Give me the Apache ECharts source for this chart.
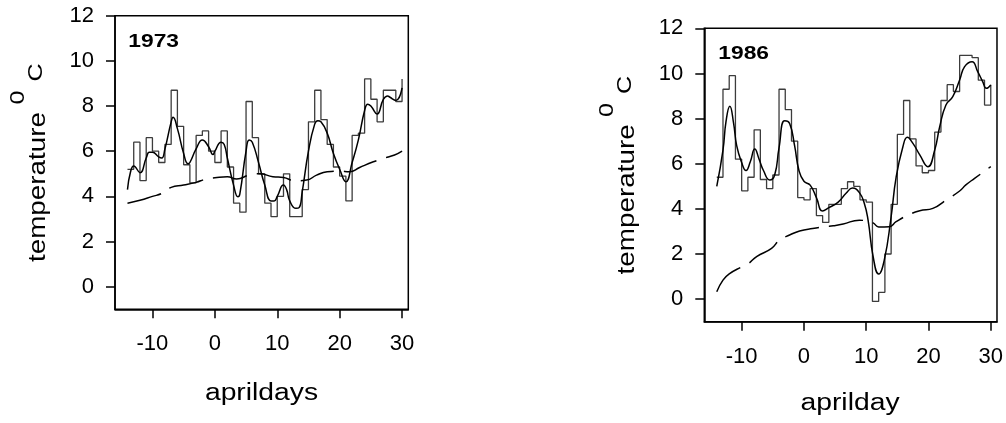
<!DOCTYPE html>
<html><head><meta charset="utf-8">
<script src="https://cdn.jsdelivr.net/npm/echarts@6/dist/echarts.min.js"></script>
<style>html,body{margin:0;padding:0;background:#fff}#c{width:1006px;height:423px}</style>
</head><body><div id="c"></div>
<script>
// ---- data ----
const days = [-14,-13,-12,-11,-10,-9,-8,-7,-6,-5,-4,-3,-2,-1,0,1,2,3,4,5,6,7,8,9,10,11,12,13,14,15,16,17,18,19,20,21,22,23,24,25,26,27,28,29,30];
const temp1973 = [5.2,6.4,4.7,6.6,6.0,5.5,6.3,8.7,7.1,5.4,4.6,6.7,6.9,6.0,5.5,6.9,5.3,3.7,3.3,8.2,6.6,5.0,3.7,3.1,4.0,5.0,3.1,3.1,4.3,7.3,8.7,7.4,6.3,5.3,4.9,3.8,6.7,6.8,9.2,8.3,7.3,8.7,8.7,8.2,9.2];
const temp1986 = [5.4,9.3,9.9,6.2,4.8,5.4,7.5,5.3,4.9,5.5,9.3,8.4,7.0,4.5,4.4,4.9,3.7,3.4,4.2,4.2,4.9,5.2,5.0,4.4,4.3,-0.1,0.3,2.0,4.2,7.3,8.8,7.1,5.9,5.6,5.7,7.4,8.8,9.5,9.2,10.8,10.8,10.7,9.7,8.6,9.5];

const smoothDays1973 = [-14,-13.5,-13,-12,-11,-10.5,-10,-9,-8.5,-8,-7,-6.7,-6,-5,-4.3,-4,-3,-2,-1,-0.3,0,1,1.5,2,3,3.7,4,5,5.5,6,7,8,9,9.5,10,11,11.5,12,13,13.5,14,15,16,16.5,17,18,19,20,21,22,23,24,24.5,25,26,27,27.7,28,29,30];
const smoothTemp1973 = [4.3,5.1,5.35,5.05,5.7,5.95,5.95,5.75,5.7,6.1,7.3,7.5,7.0,5.9,5.45,5.5,6.1,6.5,6.2,5.85,6.0,6.4,6.3,5.7,4.5,3.98,4.1,6.0,6.5,6.4,5.5,4.5,3.8,3.8,4.0,4.5,4.3,3.8,3.47,3.5,4.2,6.0,7.2,7.35,7.3,6.8,5.9,5.2,4.65,5.5,6.5,7.8,8.08,8.0,7.65,8.3,8.45,8.4,8.25,8.8];
const trendDays1973 = [-14,-12,-10,-8.5,-7,-5,-3,-1.5,0,2,3.5,5.5,7.2,9.3,11,12.8,14.7,16.3,18,20,21.6,23.2,25.4,27,28.8,30];
const trendTemp1973 = [3.7,3.83,4.0,4.13,4.4,4.5,4.62,4.76,4.82,4.87,4.77,4.94,5.0,4.87,4.84,4.69,4.72,4.94,5.09,5.12,5.09,5.28,5.53,5.68,5.83,6.0];

const smoothDays1986 = [-14,-13,-12.5,-11.9,-11.3,-10.8,-10,-9.3,-8.6,-7.9,-7.2,-6.5,-5.5,-4.7,-4,-3.1,-2.3,-1.5,-0.8,0,1,2,3,4,5.5,6.8,7.8,8.9,9.7,10.3,11.1,12,12.9,14,14.8,15.9,16.6,17.5,18.6,19.9,21,21.8,22.8,23.9,25,25.8,27,27.9,28.7,29.3,30];
const smoothTemp1986 = [5.0,6.6,7.9,8.55,7.8,6.8,6.05,5.7,6.1,6.65,6.2,5.7,5.28,5.5,6.7,7.9,7.78,6.8,5.7,5.22,5.05,4.5,3.9,4.05,4.3,4.7,4.92,4.72,4.24,3.5,1.9,1.11,1.73,3.65,5.4,6.76,7.17,6.9,6.39,5.87,6.61,7.64,8.6,8.97,9.71,10.3,10.52,10.08,9.64,9.34,9.49];
const trendDays1986 = [-14,-13,-12,-10,-9,-7.6,-5.2,-3.9,-2.3,-0.7,1.4,3.6,4.7,6.3,8.9,10,11.1,12,13.7,14.8,16.4,18.6,20.7,22.8,25,26,27.4,30];
const trendTemp1986 = [0.33,0.84,1.12,1.43,1.56,1.88,2.25,2.62,2.84,3.02,3.13,3.21,3.25,3.33,3.5,3.46,3.38,3.2,3.21,3.43,3.68,3.92,4.02,4.39,4.79,5.06,5.35,5.87];

const xTicks = [-10,0,10,20,30];
const yTicks = [0,2,4,6,8,10,12];
const yearLabels = ['1973','1986'];
const xTitles = ['aprildays','aprilday'];
const yTitleParts = ['temperature','0','C'];

// ---- chart ----
const FONT = '"Liberation Sans", Arial, sans-serif';
const grids = [
  {left:115, top:15.7, width:293.3, height:293.6},
  {left:704.3, top:28.3, width:293, height:293.4}
];
const panels = [
  {steps: temp1973, sx: smoothDays1973, sy: smoothTemp1973, tx: trendDays1973, ty: trendTemp1973},
  {steps: temp1986, sx: smoothDays1986, sy: smoothTemp1986, tx: trendDays1986, ty: trendTemp1986}
];
const zip = (a,b) => a.map((v,k)=>[v,b[k]]);
const axisLineStyle = {color:'#000', width:1.5};

const option = {
  animation:false,
  backgroundColor:'#fff',
  grid: grids.map(g => Object.assign({show:true, borderColor:'#000', borderWidth:1.5, backgroundColor:'transparent'}, g)),
  xAxis: grids.map((g,i)=>({
    gridIndex:i, type:'value', min:-16, max:31,
    axisLine:{show:true, onZero:false, lineStyle:axisLineStyle},
    axisTick:{show:true, length:9, customValues:xTicks, lineStyle:axisLineStyle},
    axisLabel:{customValues:xTicks, fontSize:22, fontFamily:FONT, color:'#000', margin:24},
    splitLine:{show:false}
  })),
  yAxis: grids.map((g,i)=>({
    gridIndex:i, type:'value', min:-1, max:12,
    axisLine:{show:true, onZero:false, lineStyle:axisLineStyle},
    axisTick:{show:true, length:9, customValues:yTicks, lineStyle:axisLineStyle},
    axisLabel:{customValues:yTicks, fontSize:22, fontFamily:FONT, color:'#000', margin:21},
    splitLine:{show:false}
  })),
  series: [],
  graphic: []
};
panels.forEach((p,i)=>{
  option.series.push({type:'line', xAxisIndex:i, yAxisIndex:i, data: zip(days,p.steps), step:'end', symbol:'none',
    lineStyle:{color:'#3c3c3c', width:1.3}, z:2});
  option.series.push({type:'line', xAxisIndex:i, yAxisIndex:i, data: zip(p.sx,p.sy), smooth:0.5, symbol:'none',
    lineStyle:{color:'#000', width:1.5}, z:3});
  option.series.push({type:'line', xAxisIndex:i, yAxisIndex:i, data: zip(p.tx,p.ty), smooth:0.5, symbol:'none',
    lineStyle:{color:'#000', width:1.5, type:[35,10]}, z:3});
});

function txt(x,y,text,size,o){
  o = o || {};
  return {type:'text', x:x, y:y, rotation:o.rot||0, scaleX:o.sx||1, scaleY:1, z:10,
    style:{text:text, fontSize:size, fontFamily:FONT, fontWeight:o.bold?'bold':'normal', fill:'#000',
      textAlign:o.align||'center', align:o.align||'center', textVerticalAlign:'middle', verticalAlign:'middle'}};
}
const offs = [{dx:0, dy:0}, {dx:589, dy:12.4}];
const xTitlePos = [[261.5,393.7],[850,404]];
offs.forEach((o,i)=>{
  option.graphic.push(txt(xTitlePos[i][0], xTitlePos[i][1], xTitles[i], 23, {sx:1.23}));
  option.graphic.push(txt(38.2+o.dx, 187+o.dy, yTitleParts[0], 24, {rot:Math.PI/2, sx:1.16}));
  option.graphic.push(txt(18.2+o.dx, 97.5+o.dy, yTitleParts[1], 21, {rot:Math.PI/2, sx:1.2}));
  option.graphic.push(txt(36.7+o.dx, 72.5+o.dy, yTitleParts[2], 21, {rot:Math.PI/2, sx:1.2}));
});
option.graphic.push(txt(128.3, 41.7, yearLabels[0], 19, {bold:true, align:'left', sx:1.2}));
option.graphic.push(txt(718.3, 53.4, yearLabels[1], 19, {bold:true, align:'left', sx:1.2}));

const chart = echarts.init(document.getElementById('c'), null, {renderer:'canvas'});
chart.setOption(option);
</script></body></html>
